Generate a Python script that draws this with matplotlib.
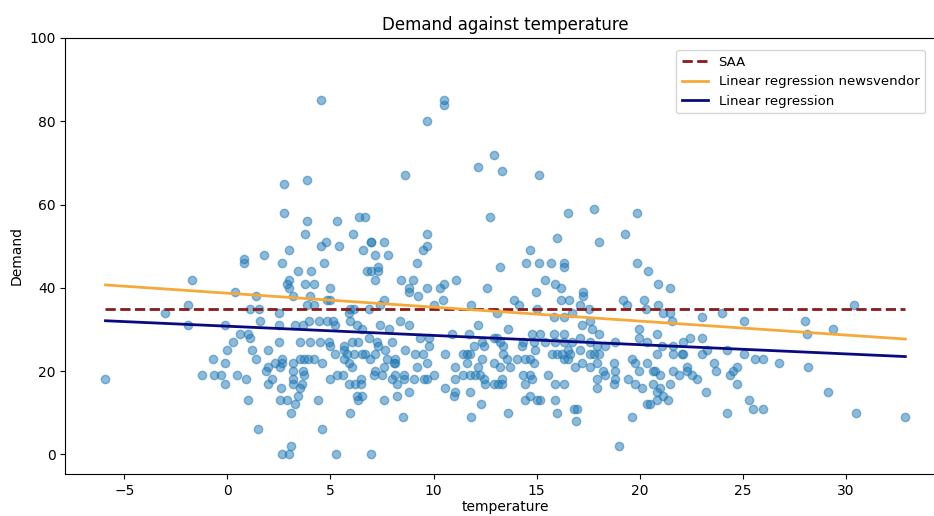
import matplotlib
matplotlib.use("Agg")
import matplotlib.pyplot as plt

temperature = [
    2.76, 3.86, 2.76, 3.86, 3.78, 3.0, 0.79, 0.79, 1.79, 2.67, 3.41, -1.71, 3.0, 2.89, 3.0, 3.78, 0.37, 1.39, 3.18, -1.92,
    1.08, 1.55, 3.86, 4.05,
    -3.0, 2.5, -1.92, -0.13, 1.58, 2.5, 3.26, 3.67, 3.94, 0.6, 1.0, 1.08, 0.29, 2.5, 3.5, -0.03, 1.21, 1.99, -0.71, -0.13,
    1.39, 2.63, 2.67, 2.33, 2.57, 3.17, 3.5, 3.7, 3.89, 1.99, 1.87, 3.67, 3.17, -5.91, -1.21, -0.63, -0.31, 0.48, 0.89, -0.13,
    2.18, 1.99, 3.17, 3.17, 3.6, 3.7, 2.58, 3.5, 3.41, 0.98, 2.57, 2.91, 3.28, 3.09, 1.49, 3.09, 2.67, 3.0,
    4.52, 10.49, 10.49, 9.69, 8.6, 12.91, 12.18, 13.3, 5.32, 6.38, 6.69, 12.76, 6.07, 9.69, 4.8, 4.52, 5.4, 6.98, 6.98, 7.6,
    6.58, 7.17, 7.77, 9.47, 9.69, 4.69, 9.19, 6.77, 6.98, 7.33, 7.33, 7.17, 4.2, 4.98, 8.42, 9.02, 8.79, 8.79, 9.69, 10.29,
    10.49, 11.07, 12.59, 13.23, 9.27, 4.02, 7.58, 10.45,
    4.83, 4.96, 4.18, 5.93, 6.12, 6.85, 7.42, 5.88, 10.0, 11.81, 13.07,
    4.43, 4.83, 5.12, 5.23, 5.96, 6.29, 6.53, 7.42, 7.82, 8.39, 8.79, 9.36, 9.76, 10.89, 11.7, 12.18, 12.91,
    4.02, 4.51, 4.91, 4.99, 5.23, 5.64, 5.64, 5.8, 6.04, 6.12, 6.36, 6.53, 6.69, 6.85, 7.26, 7.33, 7.17, 7.66, 7.98, 7.74,
    8.14, 8.14, 8.63, 9.11, 9.49, 9.76, 10.57, 11.45, 11.62, 11.78, 11.94, 12.35, 12.43, 12.35, 11.62, 12.91,
    4.18, 4.59, 5.64, 5.88, 6.04, 6.93, 7.17, 7.09, 7.58, 8.06, 9.19, 9.68, 11.05, 12.18,
    4.99, 5.32, 5.61, 5.88, 6.2, 6.48, 6.48, 7.5, 8.14, 7.98, 8.22, 8.55, 8.55, 9.03, 9.52, 9.68, 10.0, 10.57, 11.05, 11.05,
    10.97, 11.45, 11.78, 12.02, 12.26, 12.43, 12.51, 12.91, 13.15, 11.78,
    6.29, 6.53, 6.36, 7.58, 8.22, 8.79, 4.38, 12.31, 5.96, 8.51, 11.81, 4.59, 5.28, 6.98,
    15.12, 16.5, 17.79, 19.89, 16.0, 18.0, 19.29, 14.7, 14.48, 15.12, 15.7, 16.32, 16.32, 19.89, 20.41, 15.4, 15.9, 16.18,
    14.98, 17.27, 17.27, 20.9, 21.49, 13.88, 16.18, 16.59, 19.18, 20.21,
    14.12, 17.08, 17.52, 19.37, 20.31, 20.9, 21.14, 21.47, 21.55, 15.01, 23.0, 15.82, 16.34, 16.7,
    13.6, 14.77, 15.17, 15.82, 16.31, 17.19, 17.6, 17.68, 18.0, 19.94, 19.94, 20.82, 22.44, 23.0, 13.07, 13.23, 13.39, 14.36,
    14.28, 14.85, 14.93, 15.41, 15.9, 16.31, 16.71, 17.08, 17.11, 17.6, 17.92, 18.32, 18.81, 20.34, 21.07, 21.63, 22.12,
    14.04, 14.45, 14.69, 14.85, 15.74, 15.98, 16.22, 16.54, 16.63, 16.54, 16.31, 17.6, 17.76, 18.0, 16.87, 17.19, 17.6,
    17.92, 18.24, 18.32, 18.73, 18.81, 19.62, 19.78, 19.94, 20.34, 20.82, 20.66, 20.75, 20.99, 21.63, 22.04, 22.12, 22.28,
    22.28, 21.63, 21.88, 22.52, 22.77, 23.0, 13.39, 13.56, 13.72, 13.23,
    13.31, 13.31, 14.36, 14.69, 14.77, 14.45, 15.57, 15.9, 16.31, 17.92, 17.92, 18.73, 18.81, 19.45, 19.78, 20.1, 20.66,
    20.99, 20.82, 21.14, 21.47, 20.34, 20.5, 20.82, 21.39, 23.19, 14.45, 14.69, 15.01, 15.17, 15.9, 13.6, 15.98, 16.79,
    16.98, 16.92, 19.62, 18.97,
    30.39, 23.98, 25.08, 28.02, 28.1, 29.39, 23.25, 24.22, 25.08, 25.59, 26.0, 26.77, 28.18, 23.61, 23.7, 24.38, 24.5,
    24.71, 24.71, 25.3, 25.48, 26.0, 24.22, 29.12, 30.49, 32.88,
]
demand = [
    65, 66, 58, 56, 53, 49, 47, 46, 48, 46, 44, 42, 42, 41, 40, 41, 39, 38, 38, 36,
    35, 35, 36, 44,
    34, 34, 31, 31, 32, 31, 31, 31, 32, 29, 29, 28, 27, 27, 27, 25, 25, 25, 23, 22,
    23, 23, 22, 22, 21, 22, 23, 23, 23, 21, 20, 20, 20, 18, 19, 19, 19, 19, 18, 17,
    18, 17, 18, 17, 17, 19, 16, 16, 14, 13, 13, 13, 12, 10, 6, 2, 0, 0,
    85, 85, 84, 80, 67, 72, 69, 68, 56, 57, 57, 57, 53, 53, 51, 50, 50, 51, 51, 51,
    49, 48, 48, 49, 50, 46, 46, 44, 44, 45, 44, 42, 41, 40, 42, 42, 40, 39, 40, 40,
    41, 42, 40, 45, 38, 38, 37, 37,
    37, 37, 36, 35, 35, 35, 36, 34, 36, 36, 34,
    32, 32, 32, 31, 32, 31, 30, 31, 30, 32, 31, 28, 28, 29, 29, 31, 28,
    27, 27, 27, 26, 24, 26, 25, 24, 27, 24, 27, 24, 24, 28, 27, 26, 24, 25, 27, 23,
    23, 22, 25, 24, 24, 26, 24, 24, 24, 24, 26, 27, 26, 23, 22, 22,
    23, 22, 23, 22, 21, 23, 20, 19, 21, 22, 21, 22, 21, 21,
    18, 19, 19, 17, 17, 18, 17, 19, 19, 18, 17, 19, 18, 18, 18, 18, 19, 16, 18, 15,
    14, 19, 19, 19, 19, 18, 17, 17, 17, 15,
    14, 14, 13, 13, 14, 15, 13, 12, 10, 9, 9, 6, 0, 0,
    67, 58, 59, 58, 52, 51, 53, 49, 46, 46, 46, 46, 45, 46, 44, 42, 41, 40,
    39, 39, 38, 41, 40, 37, 37, 37, 37, 37,
    36, 36, 35, 36, 35, 36, 34, 34, 32, 35, 33, 33, 33, 34,
    30, 29, 29, 29, 29, 31, 32, 30, 29, 30, 28, 29, 28, 28, 28, 27, 26, 27,
    26, 27, 25, 27, 27, 27, 27, 28, 25, 27, 26, 26, 27, 27, 26, 26, 27,
    23, 23, 23, 22, 24, 24, 24, 25, 24, 23, 23, 24, 24, 24, 21, 22, 21,
    22, 20, 19, 22, 20, 23, 22, 20, 22, 24, 20, 20, 19, 24, 24, 24, 21,
    20, 20, 19, 19, 18, 24, 24, 23, 21, 21,
    18, 17, 19, 19, 18, 17, 19, 17, 17, 18, 16, 17, 18, 18, 17, 16, 17,
    16, 15, 14, 17, 12, 12, 13, 13, 15, 13, 14, 13, 13, 13, 10, 10, 11,
    11, 8, 9, 2,
    36, 34, 32, 32, 29, 30, 25, 25, 24, 23, 23, 22, 21, 22, 20, 19, 20,
    21, 17, 13, 11, 11, 10, 15, 10, 9,
]

# fitted models, evaluated at the ends of the temperature range
line_x = [min(temperature), max(temperature)]
saa_level = 35
newsvendor_y = [40.7, 27.7]
regression_y = [32.1, 23.5]

fig = plt.figure(figsize=(9.34, 5.16), dpi=100)
# axes runs slightly past the right edge, like the cropped original
ax = fig.add_axes([0.0701, 0.0814, 0.9416, 0.845])

ax.scatter(temperature, demand, s=36, color="#1f77b4", alpha=0.5)
ax.plot(line_x, [saa_level, saa_level], color="#8b1a1a", linestyle="--", linewidth=2, label="SAA")
ax.plot(line_x, newsvendor_y, color="#f5a93a", linewidth=2, label="Linear regression newsvendor")
ax.plot(line_x, regression_y, color="#0a0a80", linewidth=2, label="Linear regression")

ax.set_xlim(-7.85, 34.8)
ax.set_ylim(-4.7, 100)
ax.set_xlabel("temperature", labelpad=2)
ax.set_ylabel("Demand")
ax.set_title("Demand against temperature")
# keep the legend inside the visible figure
ax.legend(loc="upper right", fontsize=9.5, bbox_to_anchor=(0.997, 0.915),
          bbox_transform=fig.transFigure)

fig.savefig("out.png", dpi=100)
